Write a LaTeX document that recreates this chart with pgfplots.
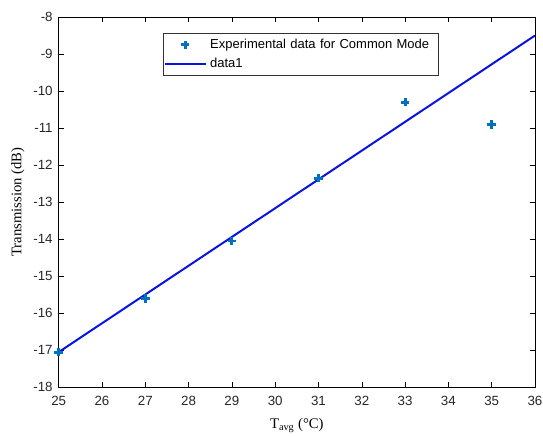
\documentclass[border=0pt]{standalone}
\usepackage{fontspec}
\setmainfont{Liberation Sans}
\newfontfamily\serif{Liberation Serif}
\usepackage{pgfplots}
\pgfplotsset{compat=1.18}
\definecolor{mblue}{RGB}{0,114,189}
\definecolor{lblue}{RGB}{10,20,225}
\pgfplotsset{
  legmark/.style={legend image code/.code={\draw[##1] plot coordinates {(15pt,0pt)};}},
  legline/.style={legend image code/.code={\draw[##1] (0pt,0pt) -- (31pt,0pt);}},
}
\begin{document}
\begin{tikzpicture}
\begin{axis}[
  width=357pt, height=277.5pt, scale only axis,
  xmin=25, xmax=36, ymin=-18, ymax=-8,
  xtick={25,...,36}, ytick={-18,...,-8},
  tick align=inside, tick pos=both,
  major tick length=4pt,
  every tick/.style={black, line width=0.4pt},
  axis line style={line width=0.5pt},
  /pgf/number format/assume math mode=true,
  tick label style={font=\fontsize{10}{12}\selectfont, color=black!85},
  yticklabel style={xshift=-1pt},
  xticklabel style={yshift=-3pt},
  xlabel={\serif T\textsubscript{avg} (°C)},
  ylabel={\serif Transmission (dB)},
  label style={font=\fontsize{11}{13}\selectfont},
  xlabel style={at={(axis description cs:0.5,-0.103)}, anchor=center},
  ylabel style={at={(axis description cs:-0.086,0.5)}, anchor=center},
  legend style={at={(axis description cs:0.218,0.957)}, anchor=north west, font=\fontsize{9.75}{11.5}\selectfont, draw=black!80, inner xsep=1pt, inner ysep=2.5pt, row sep=1.5pt, text width=168pt, cells={anchor=west}},
  legend cell align=left,
]
\addplot[only marks, mark=+, mark size=3.2pt, line width=2.2pt, mblue, legmark] coordinates {
(25,-17.05) (27,-15.6) (29,-14.05) (31,-12.35) (33,-10.3) (35,-10.9)};
\addlegendentry{Experimental data for Common Mode}
\addplot[color=lblue, line width=1.5pt, legline] coordinates {(25,-17.05) (36,-8.5)};
\addlegendentry{data1}
\end{axis}
\pgfresetboundingbox
\path (current axis.south west) ++(-44pt,-37pt) rectangle ([xshift=6pt,yshift=12.75pt]current axis.north east);
\end{tikzpicture}
\end{document}
